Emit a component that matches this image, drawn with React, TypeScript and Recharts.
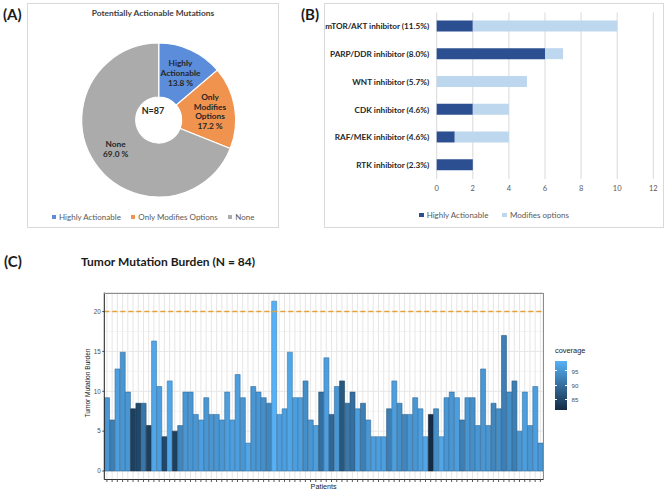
import React from "react";
import {
  PieChart, Pie, Cell, Label, Legend,
  BarChart, Bar, XAxis, YAxis, CartesianGrid, ReferenceLine,
} from "recharts";

// (A) potentially actionable mutations
const sliceNames = ["Highly Actionable", "Only Modifies Options", "None"];
const sliceLabelLines = [["Highly", "Actionable"], ["Only", "Modifies", "Options"], ["None"]];
const sliceCounts = [12, 15, 60];
const sliceColors = ["#5B8DDB", "#F0934F", "#ABABAB"];
const totalN = 87;

// (B) drug classes
const drugClasses = [
  "mTOR/AKT inhibitor (11.5%)",
  "PARP/DDR inhibitor (8.0%)",
  "WNT inhibitor (5.7%)",
  "CDK inhibitor (4.6%)",
  "RAF/MEK inhibitor (4.6%)",
  "RTK inhibitor (2.3%)",
];
const highlyActionable = [2, 6, 0, 2, 1, 2];
const modifiesOptions = [8, 1, 5, 2, 3, 0];
const drugTicks = [0, 2, 4, 6, 8, 10, 12];

// (C) tumor mutation burden per patient
const tmb = [
  9.2, 6.4, 12.8, 14.9, 9.9, 7.8, 8.5, 8.5, 5.7, 16.3, 10.6, 4.3, 11.3, 5.0,
  5.7, 9.9, 9.9, 7.1, 6.4, 9.2, 7.1, 7.1, 6.4, 9.9, 6.4, 12.1, 9.2, 3.5,
  10.6, 9.9, 9.2, 8.5, 21.3, 7.1, 7.8, 14.9, 9.2, 9.2, 11.3, 6.4, 5.7, 9.9,
  14.2, 7.1, 10.6, 11.3, 8.5, 9.9, 7.8, 8.5, 6.4, 4.3, 4.3, 4.3, 7.8, 11.3,
  8.5, 7.1, 7.1, 9.2, 7.8, 4.3, 7.1, 7.8, 4.3, 9.2, 9.9, 9.2, 6.4, 9.2,
  9.2, 5.7, 12.8, 5.7, 8.5, 7.8, 17.0, 9.9, 11.3, 5.0, 9.9, 5.7, 10.6, 3.5,
];
const coverage = [
  95, 92, 96, 95, 95, 84, 85, 91, 84, 97, 96, 85, 97, 84,
  93, 95, 95, 95, 96, 95, 95, 95, 95, 96, 96, 96, 95, 97,
  95, 95, 94, 93, 98.4, 96, 96, 97, 96, 96, 94, 95, 96, 90,
  96, 89, 95, 87, 91, 90, 96, 92, 95, 96, 96, 96, 92, 96,
  94, 93, 95, 95, 96, 97, 81.3, 94, 97, 95, 95, 96, 92, 95,
  94, 95, 95, 95, 93, 94, 92, 94, 92, 95, 96, 95, 96, 95,
];
const tmbTicks = [0, 5, 10, 15, 20];
const tmbMinorTicks = [2.5, 7.5, 12.5, 17.5];
const tmbThreshold = 20;
const coverageTicks = [85, 90, 95];

const pieData = sliceNames.map((name, i) => ({ name, value: sliceCounts[i] }));
const drugData = drugClasses.map((name, i) => ({
  name, highly: highlyActionable[i], modifies: modifiesOptions[i],
}));
const tmbData = tmb.map((v, i) => ({ patient: i + 1, tmb: v, coverage: coverage[i] }));

const covMin = Math.min(...coverage);
const covMax = Math.max(...coverage);
const LOW = [0x13, 0x2b, 0x43];
const HIGH = [0x56, 0xb1, 0xf7];

function covColor(c: number, k = 1) {
  const t = (c - covMin) / (covMax - covMin);
  const ch = LOW.map((lo, j) => Math.round((lo + t * (HIGH[j] - lo)) * k));
  return `rgb(${ch[0]},${ch[1]},${ch[2]})`;
}

const office = "Lato, 'Open Sans', sans-serif";
const ggFont = "'Liberation Sans', Arial, sans-serif";
const RAD = Math.PI / 180;
const TMB_DOMAIN = [-1.065, 22.365];

function renderSliceLabel(props: any) {
  const { cx, cy, midAngle, innerRadius, outerRadius, index } = props;
  const r = (innerRadius + outerRadius) / 2 + 2;
  const x = cx + r * Math.cos(-midAngle * RAD);
  const y = cy + r * Math.sin(-midAngle * RAD);
  const lines = [...sliceLabelLines[index], `${((sliceCounts[index] / totalN) * 100).toFixed(1)} %`];
  const lh = 9.8;
  const y0 = y - ((lines.length - 1) * lh) / 2;
  return (
    <text x={x} y={y0} textAnchor="middle"
      fontSize={8.3} fontWeight={700} fill="#262626" fontFamily={office}>
      {lines.map((l, i) => (
        <tspan key={i} x={x} y={y0 + i * lh} dominantBaseline="central">{l}</tspan>
      ))}
    </text>
  );
}

function DrugTick(props: any) {
  const { x, y, payload } = props;
  return (
    <text x={x} y={y} textAnchor="end" dominantBaseline="central"
      fontSize={8.2} fontWeight={700} fill="#262626" fontFamily={office}>
      {payload.value}
    </text>
  );
}

const NoTick = () => <g />;

function legendRow(items: { label: string; color: string }[], gap: number) {
  return (
    <div style={{ display: "flex", justifyContent: "center", gap, fontFamily: office, fontSize: 8, color: "#595959" }}>
      {items.map((it) => (
        <span key={it.label} style={{ display: "flex", alignItems: "center", gap: 3 }}>
          <span style={{ width: 4.5, height: 4.5, background: it.color, display: "inline-block" }} />
          {it.label}
        </span>
      ))}
    </div>
  );
}

function PanelLetter({ text, left, top }: { text: string; left: number; top: number }) {
  return (
    <div style={{ position: "absolute", left, top, fontFamily: office, fontWeight: 700, fontSize: 15, color: "#1a1a1a" }}>
      {text}
    </div>
  );
}

function DonutPanel() {
  return (
    <div style={{ position: "absolute", left: 27, top: 3, width: 250, height: 223, border: "1px solid #d9d9d9", background: "#fff" }}>
      <div style={{ position: "absolute", top: 4, width: "100%", textAlign: "center", fontFamily: office, fontWeight: 700, fontSize: 8.4, color: "#404040" }}>
        Potentially Actionable Mutations
      </div>
      <PieChart width={250} height={223} style={{ position: "absolute", left: 0, top: 0 }}>
        <Pie data={pieData} dataKey="value" nameKey="name" cx={125.7} cy={111} innerRadius={23} outerRadius={77}
          startAngle={90} endAngle={-270} stroke="#fff" strokeWidth={1.2}
          label={renderSliceLabel} labelLine={false} isAnimationActive={false}>
          {pieData.map((d, i) => <Cell key={d.name} fill={sliceColors[i]} />)}
          <Label position="center" value={`N=${totalN}`} fontSize={9} fontWeight={700} fill="#262626" fontFamily={office} />
        </Pie>
        <Legend wrapperStyle={{ top: 208, left: 0, width: 250 }}
          content={() => legendRow(sliceNames.map((n, i) => ({ label: n, color: sliceColors[i] })), 10)} />
      </PieChart>
    </div>
  );
}

function DrugPanel() {
  return (
    <div style={{ position: "absolute", left: 324, top: 3, width: 338, height: 223, border: "1px solid #d9d9d9", background: "#fff" }}>
      <BarChart width={338} height={223} data={drugData} layout="vertical"
        margin={{ top: 8.4, right: 9.7, bottom: 18, left: 0 }}>
        <CartesianGrid horizontal={false} stroke="#d9d9d9" />
        <XAxis type="number" domain={[0, 12]} ticks={drugTicks} axisLine={false} tickLine={false}
          tickSize={4} tickMargin={3} height={20} interval={0}
          tick={{ fontSize: 7.5, fill: "#595959", fontFamily: office }} />
        <YAxis type="category" dataKey="name" width={111.7} axisLine={false} tickLine={false}
          tickSize={0} tickMargin={7.5} tick={<DrugTick />} />
        <Bar dataKey="highly" name="Highly Actionable" stackId="a" fill="#2B4F91" barSize={11} isAnimationActive={false} />
        <Bar dataKey="modifies" name="Modifies options" stackId="a" fill="#BDD7EE" barSize={11} isAnimationActive={false} />
        <Legend wrapperStyle={{ top: 206, left: 0, width: 338 }}
          content={() => legendRow([
            { label: "Highly Actionable", color: "#2B4F91" },
            { label: "Modifies options", color: "#BDD7EE" },
          ], 14)} />
      </BarChart>
    </div>
  );
}

function TmbPanel() {
  const barTop = 361;
  const barH = 49;
  return (
    <>
      <div style={{ position: "absolute", left: 81, top: 254, fontFamily: office, fontWeight: 700, fontSize: 12, color: "#1a1a1a" }}>
        Tumor Mutation Burden (N = {tmb.length})
      </div>
      <BarChart width={548} height={207} data={tmbData} barCategoryGap="5%"
        margin={{ top: 7.7, right: 5, bottom: 7.5, left: 0 }}
        style={{ position: "absolute", left: 0, top: 285 }}>
        <CartesianGrid yAxisId="minor" vertical={false} stroke="#f4f4f4" />
        <CartesianGrid stroke="#e6e6e6" />
        <XAxis dataKey="patient" interval={0} tick={NoTick} tickSize={2.5} height={5}
          axisLine={{ stroke: "#333" }} tickLine={{ stroke: "#555" }} />
        <YAxis type="number" domain={TMB_DOMAIN} ticks={tmbTicks} allowDataOverflow width={104.3}
          tickSize={2} tickMargin={1.5} axisLine={{ stroke: "#222" }} tickLine={{ stroke: "#444" }}
          tick={{ fontSize: 6.3, fill: "#4d4d4d", fontFamily: ggFont }} />
        <YAxis yAxisId="minor" type="number" domain={TMB_DOMAIN} ticks={tmbMinorTicks} allowDataOverflow
          hide width={0} />
        <Bar dataKey="tmb" isAnimationActive={false}>
          {tmbData.map((d) => (
            <Cell key={d.patient} fill={covColor(d.coverage)} stroke={covColor(d.coverage, 0.72)} strokeWidth={0.6} />
          ))}
        </Bar>
        <ReferenceLine y={tmbThreshold} stroke="#E2A338" strokeWidth={1.4} strokeDasharray="5 3" />
      </BarChart>
      {/* panel border */}
      <div style={{ position: "absolute", left: 104, top: 292.5, width: 438.5, height: 186.5, border: "1px solid #8c8c8c", borderLeft: "none", borderBottom: "none", pointerEvents: "none" }} />
      <div style={{ position: "absolute", left: 87, top: 383, transform: "translate(-50%, -50%) rotate(-90deg)", whiteSpace: "nowrap", fontFamily: ggFont, fontSize: 6.6, color: "#1a1a1a" }}>
        Tumor Mutation Burden
      </div>
      <div style={{ position: "absolute", left: 323.6, top: 486, transform: "translate(-50%, -50%)", fontFamily: ggFont, fontSize: 7.2, color: "#1a1a1a" }}>
        Patients
      </div>
      {/* coverage colour bar */}
      <div style={{ position: "absolute", left: 555, top: 350, fontFamily: ggFont, fontSize: 7.4, color: "#1a1a1a", transform: "translateY(-50%)" }}>
        coverage
      </div>
      <div style={{ position: "absolute", left: 555, top: barTop, width: 12, height: barH, background: `linear-gradient(${covColor(covMax)}, ${covColor(covMin)})` }}>
        {coverageTicks.map((t) => {
          const y = ((covMax - t) / (covMax - covMin)) * barH;
          return (
            <React.Fragment key={t}>
              <div style={{ position: "absolute", left: 0, top: y - 0.5, width: 2.4, height: 1, background: "#fff" }} />
              <div style={{ position: "absolute", right: 0, top: y - 0.5, width: 2.4, height: 1, background: "#fff" }} />
              <div style={{ position: "absolute", left: 16.5, top: y, transform: "translateY(-50%)", fontFamily: ggFont, fontSize: 6.2, color: "#4d4d4d" }}>
                {t}
              </div>
            </React.Fragment>
          );
        })}
      </div>
    </>
  );
}

export default function App() {
  return (
    <div style={{ position: "absolute", left: 0, top: 0, width: 669, height: 492, background: "#fff", overflow: "hidden" }}>
      <PanelLetter text="(A)" left={3} top={5} />
      <PanelLetter text="(B)" left={301} top={5} />
      <PanelLetter text="(C)" left={4} top={252} />
      <DonutPanel />
      <DrugPanel />
      <TmbPanel />
    </div>
  );
}
